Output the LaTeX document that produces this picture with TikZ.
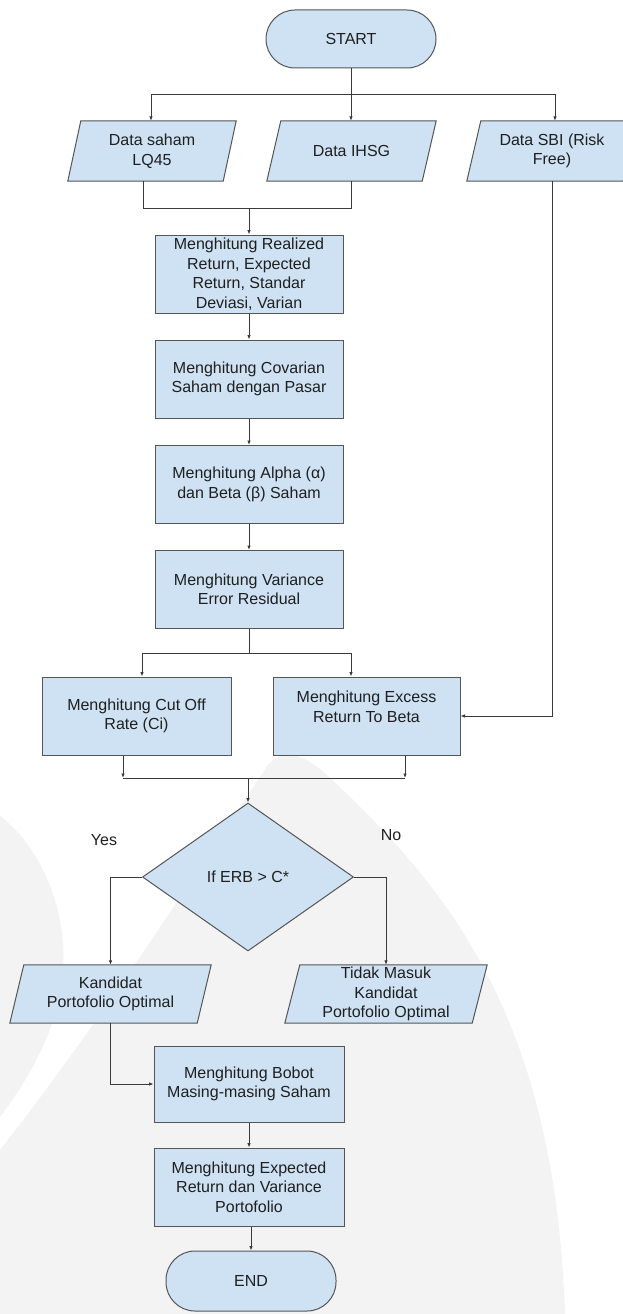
\documentclass[tikz,border=0pt]{standalone}
\usepackage{fontspec}
\setmainfont{Liberation Sans}
\usetikzlibrary{arrows.meta,shapes.geometric}
\pgfdeclarelayer{background}
\pgfsetlayers{background,main}
\definecolor{boxfill}{HTML}{CFE2F3}
\definecolor{boxline}{HTML}{555555}
\definecolor{wm}{HTML}{F3F3F3}
\definecolor{conn}{HTML}{3A3A3A}
\begin{document}
\begin{tikzpicture}[x=1pt,y=-1pt,
  every node/.style={font=\fontsize{16pt}{19.5pt}\selectfont, text=black!88, inner sep=0pt, align=center},
  procbox/.style={rectangle, draw=boxline, fill=boxfill, line width=1pt, minimum width=188pt, minimum height=78pt},
  termbox/.style={rectangle, draw=boxline, fill=boxfill, line width=1pt, rounded corners=29pt, minimum width=170pt, minimum height=58pt},
  iobox/.style={rectangle, minimum height=60pt, minimum width=155pt},
  iofill/.style={draw=boxline, fill=boxfill, line width=1pt},
  decbox/.style={diamond, draw=boxline, fill=boxfill, line width=1pt, minimum width=211pt, minimum height=148pt},
  line/.style={draw=conn, line width=0.9pt},
  arr/.style={line, -{Latex[length=4.5pt,width=3.6pt]}}]
\useasboundingbox (0,0) rectangle (623,1314);

% nodes
\node[termbox] (start) at (351,39) {START};
\node[iobox] (lq) at (152,151) {Data saham\\LQ45};
\node[iobox, minimum width=155pt] (ihsg) at (351.5,151) {Data IHSG};
\node[iobox, minimum width=156pt] (sbi) at (552,151) {Data SBI (Risk\\Free)};
\node[procbox] (real) at (249,274) {Menghitung Realized\\Return, Expected\\Return, Standar\\Deviasi, Varian};
\node[procbox] (cov) at (249,379) {Menghitung Covarian\\Saham dengan Pasar};
\node[procbox] (alpha) at (249,484.5) {Menghitung Alpha (α)\\dan Beta (β) Saham};
\node[procbox] (var) at (249,589.5) {Menghitung Variance\\Error Residual};
\node[procbox, minimum width=189pt] (cut) at (136.5,716) {Menghitung Cut Off\\Rate (Ci)};
\node[procbox, minimum width=187pt] (ex) at (366.5,716) {};
\node (extext) at ([yshift=9pt]ex.center) {Menghitung Excess\\Return To Beta};
\node[decbox] (dec) at (248,877) {If ERB > C*};
\node (yes) at (104,840) {Yes};
\node (no) at (391,835) {No};
\node[iobox, minimum width=187pt, minimum height=58pt] (kand) at (110.5,994) {Kandidat\\Portofolio Optimal};
\node[iobox, minimum width=187pt, minimum height=58pt] (tidak) at (386,994) {Tidak Masuk\\Kandidat\\Portofolio Optimal};
\node[procbox, minimum width=190pt, minimum height=76pt] (bob) at (249,1084) {Menghitung Bobot\\Masing-masing Saham};
\node[procbox, minimum width=190pt] (exp) at (249,1187) {Menghitung Expected\\Return dan Variance\\Portofolio};
\node[termbox, minimum height=60pt] (fin) at (251,1281) {END};

% background: watermark and parallelograms
\begin{pgfonlayer}{background}
  \fill[white] (0,0) rectangle (623,1314);
  \fill[wm] (0,1150) .. controls (110,1010) and (210,850) .. (268,765)
            .. controls (285,745) and (310,758) .. (330,778)
            .. controls (450,890) and (555,1020) .. (565,1314) -- (0,1314) -- cycle;
  \fill[wm] (0,816) .. controls (45,850) and (70,920) .. (62,980)
            .. controls (55,1040) and (20,1090) .. (0,1117) -- cycle;
  \foreach \n/\s in {lq/6.5, ihsg/7, sbi/7, kand/7, tidak/7.5}{
    \path[iofill] ([xshift=\s pt]\n.north west) -- ([xshift=\s pt]\n.north east)
      -- ([xshift=-\s pt]\n.south east) -- ([xshift=-\s pt]\n.south west) -- cycle;
  }
\end{pgfonlayer}

% connectors
\coordinate (j1) at (351,94);
\draw[line] (start.south) -- (j1);
\draw[arr] (j1) -| ([xshift=-1pt]lq.north);
\draw[arr] (j1) -- (j1 |- ihsg.north);
\draw[arr] (j1) -| ([xshift=3pt]sbi.north);

\coordinate (j2) at (249,208);
\draw[line] ([xshift=-9pt]lq.south) |- (j2);
\draw[line] (ihsg.south) |- (j2);
\draw[arr] (j2) -- (real.north);
\draw[arr] (real) -- (cov);
\draw[arr] (cov) -- (alpha);
\draw[arr] (alpha) -- (var);

\coordinate (j3) at (249,653);
\draw[line] (var.south) -- (j3);
\draw[arr] (j3) -| ([xshift=5.5pt]cut.north);
\draw[arr] (j3) -| ([xshift=-15.5pt]ex.north);
\draw[arr] (sbi.south) |- (ex.east);

\coordinate (c1) at (123,778);
\coordinate (c2) at (405,778);
\coordinate (j4) at (248,778);
\draw[arr] (cut.south -| c1) -- (c1);
\draw[arr] (ex.south -| c2) -- (c2);
\draw[line] (c1) -- (c2);
\draw[arr] (j4) -- (dec.north);

\draw[arr] (dec.west) -| (kand.north);
\draw[arr] (dec.east) -| (tidak.north);
\draw[arr] (kand.south) |- (bob.west);
\draw[arr] (bob) -- (exp);
\draw[arr] (exp.south -| fin.north) -- (fin.north);
\end{tikzpicture}
\end{document}
